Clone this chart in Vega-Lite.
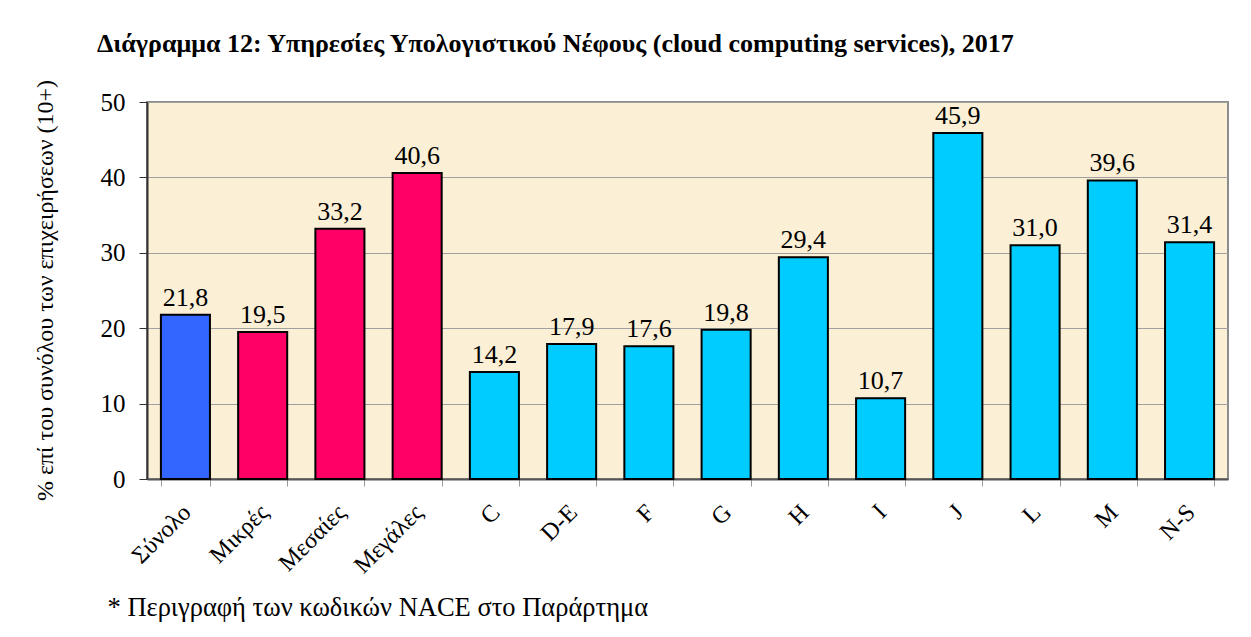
{
  "$schema": "https://vega.github.io/schema/vega-lite/v6.json",
  "autosize": {"type": "none"},
  "padding": {"left": 147, "top": 102, "right": 23, "bottom": 158},
  "width": 1081,
  "height": 377,
  "background": "white",
  "title": {
    "text": "Διάγραμμα 12: Υπηρεσίες Υπολογιστικού Νέφους (cloud computing services), 2017",
    "anchor": "start",
    "frame": "group",
    "dx": -50,
    "font": "Liberation Serif",
    "fontSize": 26,
    "fontWeight": "bold",
    "color": "#000000",
    "offset": 22
  },
  "data": {
    "values": [
      {"cat": "Σύνολο", "v": 21.8, "grp": "total"},
      {"cat": "Μικρές", "v": 19.5, "grp": "size"},
      {"cat": "Μεσαίες", "v": 33.2, "grp": "size"},
      {"cat": "Μεγάλες", "v": 40.6, "grp": "size"},
      {"cat": "C", "v": 14.2, "grp": "nace"},
      {"cat": "D-E", "v": 17.9, "grp": "nace"},
      {"cat": "F", "v": 17.6, "grp": "nace"},
      {"cat": "G", "v": 19.8, "grp": "nace"},
      {"cat": "H", "v": 29.4, "grp": "nace"},
      {"cat": "I", "v": 10.7, "grp": "nace"},
      {"cat": "J", "v": 45.9, "grp": "nace"},
      {"cat": "L", "v": 31.0, "grp": "nace"},
      {"cat": "M", "v": 39.6, "grp": "nace"},
      {"cat": "N-S", "v": 31.4, "grp": "nace"}
    ]
  },
  "encoding": {
    "x": {
      "field": "cat",
      "type": "nominal",
      "sort": null,
      "scale": {"paddingInner": 0.365, "paddingOuter": 0.18},
      "axis": {
        "title": "* Περιγραφή των κωδικών NACE στο Παράρτημα",
        "titleFont": "Liberation Serif",
        "titleFontSize": 26.5,
        "titleFontWeight": "normal",
        "titleColor": "#000000",
        "titleAnchor": "start",
        "titleAlign": "left",
        "titleBaseline": "middle",
        "titleX": -40,
        "titleY": 128,
        "labelAngle": -45,
        "labelAlign": "right",
        "labelBaseline": "top",
        "labelFont": "Liberation Serif",
        "labelFontSize": 24,
        "labelColor": "#000000",
        "labelPadding": 14,
        "labelOffset": -7,
        "tickBand": "extent",
        "tickSize": 7,
        "tickColor": "#999999",
        "domainColor": "#555555",
        "domainWidth": 2
      }
    },
    "y": {
      "field": "v",
      "type": "quantitative",
      "scale": {"domain": [0, 50], "nice": false},
      "axis": {
        "title": "% επί του συνόλου των επιχειρήσεων (10+)",
        "titleFont": "Liberation Serif",
        "titleFontSize": 24,
        "titleFontWeight": "normal",
        "titleColor": "#000000",
        "titleX": -102,
        "titleY": 188,
        "titleAngle": -90,
        "titleAlign": "center",
        "titleBaseline": "middle",
        "values": [0, 10, 20, 30, 40, 50],
        "labelFont": "Liberation Serif",
        "labelFontSize": 25,
        "labelColor": "#000000",
        "labelPadding": 14,
        "tickSize": 8,
        "tickColor": "#333333",
        "domainColor": "#333333",
        "domainWidth": 2,
        "gridColor": "#A0A0A0",
        "gridWidth": 1
      }
    }
  },
  "layer": [
    {
      "mark": {"type": "bar", "stroke": "#000000", "strokeWidth": 2},
      "encoding": {
        "color": {
          "field": "grp",
          "type": "nominal",
          "scale": {"domain": ["total", "size", "nace"], "range": ["#3366FF", "#FF0066", "#00CCFF"]},
          "legend": null
        }
      }
    },
    {
      "mark": {"type": "text", "font": "Liberation Serif", "fontSize": 26, "color": "#000000", "baseline": "alphabetic", "dy": -9},
      "encoding": {
        "text": {"field": "v", "type": "quantitative", "format": ".1f"}
      }
    }
  ],
  "config": {
    "locale": {"number": {"decimal": ",", "thousands": ".", "grouping": [3], "currency": ["", " €"]}},
    "view": {"fill": "#FBEFD6", "stroke": "#8C8C8C", "strokeWidth": 2}
  }
}
